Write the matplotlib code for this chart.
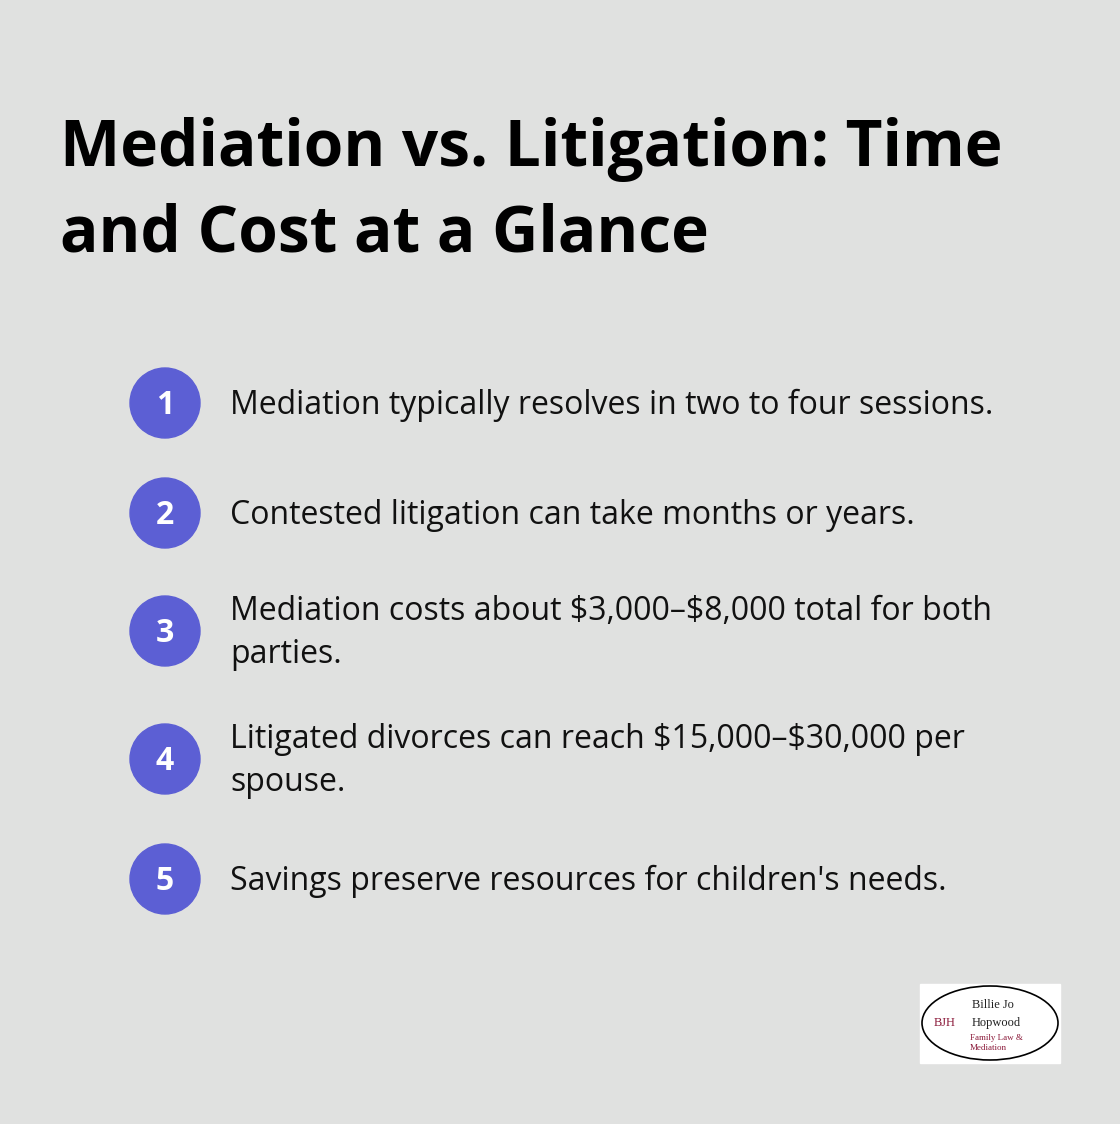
import matplotlib
matplotlib.use("Agg")
import matplotlib.pyplot as plt
from matplotlib.patches import Circle, Rectangle, Ellipse

plt.rcParams["text.parse_math"] = False

title_lines = ["Mediation vs. Litigation: Time", "and Cost at a Glance"]
numbers = ["1", "2", "3", "4", "5"]
items = [
    "Mediation typically resolves in two to four sessions.",
    "Contested litigation can take months or years.",
    "Mediation costs about $3,000\u2013$8,000 total for both\nparties.",
    "Litigated divorces can reach $15,000\u2013$30,000 per\nspouse.",
    "Savings preserve resources for children's needs.",
]

# layout (pixels)
row_y = [403, 513, 631, 759, 879]
BG = "#E0E1E0"
ACCENT = "#5C5FD4"
FONT = ["Open Sans", "DejaVu Sans"]

fig = plt.figure(figsize=(11.2, 11.24), dpi=100, facecolor=BG)
ax = fig.add_axes([0, 0, 1, 1])
ax.set_xlim(0, 1120)
ax.set_ylim(1124, 0)
ax.axis("off")
ax.set_facecolor(BG)

ax.text(60, 192, "\n".join(title_lines), fontsize=46, fontweight="bold",
        family=FONT, color="black", va="center", ha="left", linespacing=1.42)

for num, txt, y in zip(numbers, items, row_y):
    ax.add_patch(Circle((165, y), 35, color=ACCENT))
    ax.text(165, y + 3, num, fontsize=23, fontweight="bold", color="white",
            family=FONT, ha="center", va="center")
    ax.text(230, y + 2, txt, fontsize=23, color="#111111", family=FONT,
            ha="left", va="center", linespacing=1.42)

# logo
ax.add_patch(Rectangle((920, 984), 140, 79, color="white"))
ax.add_patch(Ellipse((990, 1023), 136, 74, fill=False, ec="black", lw=1.2))
ax.text(972, 1005, "Billie Jo", fontsize=9, family="Liberation Serif", color="#222222", va="center")
ax.text(972, 1023, "Hopwood", fontsize=9, family="Liberation Serif", color="#222222", va="center")
ax.text(970, 1038, "Family Law &", fontsize=6.5, family="Liberation Serif", color="#8B1A3A", va="center")
ax.text(970, 1048, "Mediation", fontsize=6.5, family="Liberation Serif", color="#8B1A3A", va="center")
ax.text(945, 1023, "BJH", fontsize=9, family="Liberation Serif", color="#8B1A3A", va="center", ha="center")

fig.savefig("out.png", dpi=100, facecolor=BG)
